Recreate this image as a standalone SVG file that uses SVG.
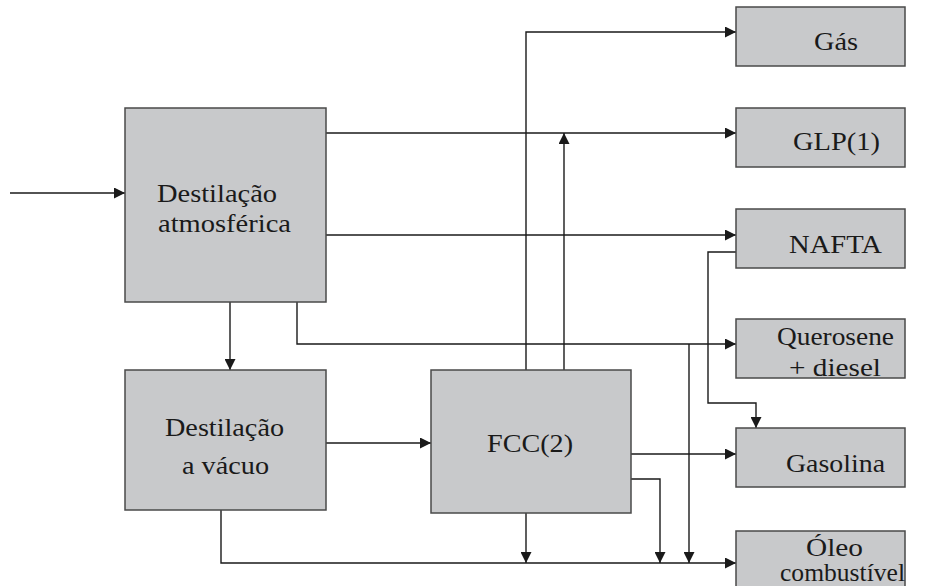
<svg xmlns="http://www.w3.org/2000/svg" width="933" height="586" viewBox="0 0 933 586">
<defs>
<marker id="ah" viewBox="0 0 10 10" refX="10" refY="5" markerWidth="11" markerHeight="11" markerUnits="userSpaceOnUse" orient="auto">
<path d="M0,0 L10,5 L0,10 z" fill="#1a1a1a"/>
</marker>
<style>
.box{fill:#c8c9cb;stroke:#4a4a4a;stroke-width:1.5}
.t{font-family:'Liberation Serif','Times New Roman','DejaVu Serif',serif;font-size:25px;fill:#1a1a1a}
.c{fill:none;stroke:#1a1a1a;stroke-width:1.4}
</style>
</defs>
<rect width="933" height="586" fill="#fff"/>
<g id="connectors">
<path class="c" d="M10,193 H125" marker-end="url(#ah)"/>
<path class="c" d="M326,133 H736" marker-end="url(#ah)"/>
<path class="c" d="M326,235 H736" marker-end="url(#ah)"/>
<path class="c" d="M230,302 V370" marker-end="url(#ah)"/>
<path class="c" d="M297,302 V344 H736" marker-end="url(#ah)"/>
<path class="c" d="M326,443 H431" marker-end="url(#ah)"/>
<path class="c" d="M526,370 V32 H736" marker-end="url(#ah)"/>
<path class="c" d="M564,370 V133" marker-end="url(#ah)"/>
<path class="c" d="M631,454 H736" marker-end="url(#ah)"/>
<path class="c" d="M631,479 H660 V563" marker-end="url(#ah)"/>
<path class="c" d="M526,513 V563" marker-end="url(#ah)"/>
<path class="c" d="M689,344 V563" marker-end="url(#ah)"/>
<path class="c" d="M221,510 V563 H736" marker-end="url(#ah)"/>
<path class="c" d="M736,252 H708 V403 H756 V428" marker-end="url(#ah)"/>
</g>
<g id="atm">
<rect class="box" x="125" y="108" width="201" height="194"/>
<text class="t" x="157" y="202" textLength="120" lengthAdjust="spacingAndGlyphs">Destilação</text>
<text class="t" x="158" y="232" textLength="133" lengthAdjust="spacingAndGlyphs">atmosférica</text>
</g>
<g id="vacuo">
<rect class="box" x="125" y="370" width="201" height="140"/>
<text class="t" x="165" y="436" textLength="119" lengthAdjust="spacingAndGlyphs">Destilação</text>
<text class="t" x="182" y="474" textLength="87" lengthAdjust="spacingAndGlyphs">a vácuo</text>
</g>
<g id="fcc">
<rect class="box" x="431" y="370" width="200" height="143"/>
<text class="t" x="487" y="452" textLength="86" lengthAdjust="spacingAndGlyphs">FCC(2)</text>
</g>
<g id="gas">
<rect class="box" x="736" y="7" width="169" height="59"/>
<text class="t" x="814" y="50" textLength="44" lengthAdjust="spacingAndGlyphs">Gás</text>
</g>
<g id="glp">
<rect class="box" x="736" y="108" width="169" height="59"/>
<text class="t" x="793" y="150" textLength="87" lengthAdjust="spacingAndGlyphs">GLP(1)</text>
</g>
<g id="nafta">
<rect class="box" x="736" y="209" width="169" height="59"/>
<text class="t" x="789" y="253" textLength="93" lengthAdjust="spacingAndGlyphs">NAFTA</text>
</g>
<g id="querosene">
<rect class="box" x="736" y="319" width="169" height="59"/>
<text class="t" x="777" y="345" textLength="117" lengthAdjust="spacingAndGlyphs">Querosene</text>
<text class="t" x="789" y="376" textLength="92" lengthAdjust="spacingAndGlyphs">+ diesel</text>
</g>
<g id="gasolina">
<rect class="box" x="736" y="428" width="169" height="59"/>
<text class="t" x="786" y="472" textLength="99" lengthAdjust="spacingAndGlyphs">Gasolina</text>
</g>
<g id="oleo">
<rect class="box" x="736" y="531" width="169" height="62"/>
<text class="t" x="806" y="556" textLength="57" lengthAdjust="spacingAndGlyphs">Óleo</text>
<text class="t" x="780" y="581" textLength="125" lengthAdjust="spacingAndGlyphs">combustível</text>
</g>
</svg>
